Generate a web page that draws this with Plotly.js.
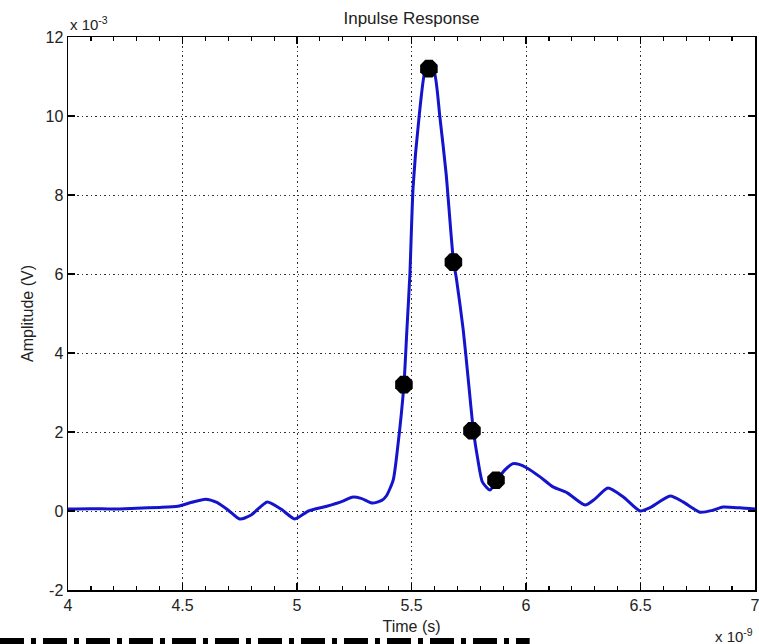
<!DOCTYPE html>
<html>
<head>
<meta charset="utf-8">
<script src="https://cdn.plot.ly/plotly-3.0.1.min.js"></script>
<style>html,body{margin:0;padding:0;background:#fff;}#chart{width:759px;height:644px;}</style>
</head>
<body>
<div id="chart"></div>
<script>
// Impulse response trace (time in ns, amplitude in mV)
var timeNs = [4.00,4.10,4.20,4.30,4.40,4.48,4.54,4.60,4.65,4.70,4.75,4.80,4.87,4.93,4.99,5.05,5.13,5.20,5.24,5.28,5.33,5.37,5.39,5.42,5.44,5.467,5.48,5.493,5.507,5.533,5.56,5.576,5.60,5.624,5.651,5.683,5.697,5.726,5.748,5.770,5.79,5.81,5.843,5.873,5.908,5.943,5.97,6.004,6.06,6.118,6.18,6.258,6.30,6.358,6.424,6.498,6.54,6.63,6.686,6.76,6.817,6.86,6.934,7.00];
var ampMv = [0.05,0.06,0.05,0.07,0.09,0.12,0.22,0.30,0.22,0.02,-0.20,-0.10,0.23,0.05,-0.20,0.00,0.12,0.25,0.35,0.32,0.20,0.27,0.38,0.78,1.63,3.2,4.6,6.0,8.2,9.97,11.16,11.24,11.09,9.97,8.55,6.34,5.85,4.58,3.32,2.05,1.29,0.73,0.53,0.78,1.04,1.20,1.18,1.09,0.87,0.61,0.46,0.15,0.30,0.58,0.36,0.00,0.08,0.38,0.23,-0.03,0.02,0.10,0.08,0.05];
// Sample markers
var sampleNs = [5.467,5.576,5.683,5.764,5.869];
var sampleMv = [3.2,11.2,6.3,2.03,0.78];
// Tick values
var xTicks = [4,4.5,5,5.5,6,6.5,7];
var xTickLabels = ['4','4.5','5','5.5','6','6.5','7'];
var yTicks = [-2,0,2,4,6,8,10,12];
var yTickLabels = ['-2','0','2','4','6','8','10','12'];

var font = 'Liberation Sans, Arial, Helvetica, sans-serif';

var traces = [
  {x: timeNs, y: ampMv, mode: 'lines', type: 'scatter',
   line: {color: '#1414cc', width: 3, shape: 'spline', smoothing: 0.6},
   hoverinfo: 'skip'},
  {x: sampleNs, y: sampleMv, mode: 'markers', type: 'scatter',
   marker: {color: '#000', size: 19, symbol: 'octagon'}}
];

var axisCommon = {
  showline: true, linecolor: '#000', linewidth: 1.5, mirror: 'ticks',
  ticks: 'inside', ticklen: 7, tickcolor: '#000', tickwidth: 1.5,
  showgrid: true, gridcolor: '#333', griddash: '1.5px,3px', gridwidth: 1,
  zeroline: false, tickfont: {family: font, size: 16, color: '#222'},
  tickmode: 'array', ticklabeloverflow: 'allow'
};

var layout = {
  width: 759, height: 644,
  margin: {l: 68, r: 4, t: 37, b: 54},
  paper_bgcolor: '#fff', plot_bgcolor: '#fff',
  showlegend: false,
  title: {text: 'Inpulse Response', font: {family: font, size: 17, color: '#222'},
          x: 0.5, xref: 'paper', xanchor: 'center', y: 0.972, yref: 'container', yanchor: 'middle'},
  xaxis: Object.assign({}, axisCommon, {
    range: [4, 7], tickvals: xTicks, ticktext: xTickLabels,
    minor: {dtick: 0.1, ticks: 'inside', ticklen: 4, tickcolor: '#000', tickwidth: 1.2, showgrid: false},
    title: {text: 'Time (s)', font: {family: font, size: 16, color: '#222'}, standoff: 8}
  }),
  yaxis: Object.assign({}, axisCommon, {
    range: [-2, 12], tickvals: yTicks, ticktext: yTickLabels,
    title: {text: 'Amplitude (V)', font: {family: font, size: 16, color: '#222'}, standoff: 8}
  }),
  annotations: [
    {text: 'x 10<sup>-3</sup>', xref: 'paper', yref: 'paper', x: 0, y: 1, xanchor: 'left', yanchor: 'bottom',
     yshift: 2, showarrow: false, font: {family: font, size: 15, color: '#222'}},
    {text: 'x 10<sup>-9</sup>', xref: 'paper', yref: 'paper', x: 1, y: 0, xanchor: 'right', yanchor: 'top',
     yshift: -34, showarrow: false, font: {family: font, size: 15, color: '#222'}}
  ],
  shapes: [
    {type: 'line', xref: 'paper', yref: 'paper', x0: -0.099, x1: 0.672, y0: -0.0940, y1: -0.0940,
     line: {color: '#000', width: 8, dash: '24px,7px,5px,7px'}}
  ]
};

Plotly.newPlot('chart', traces, layout, {displayModeBar: false, staticPlot: true});
</script>
</body>
</html>
